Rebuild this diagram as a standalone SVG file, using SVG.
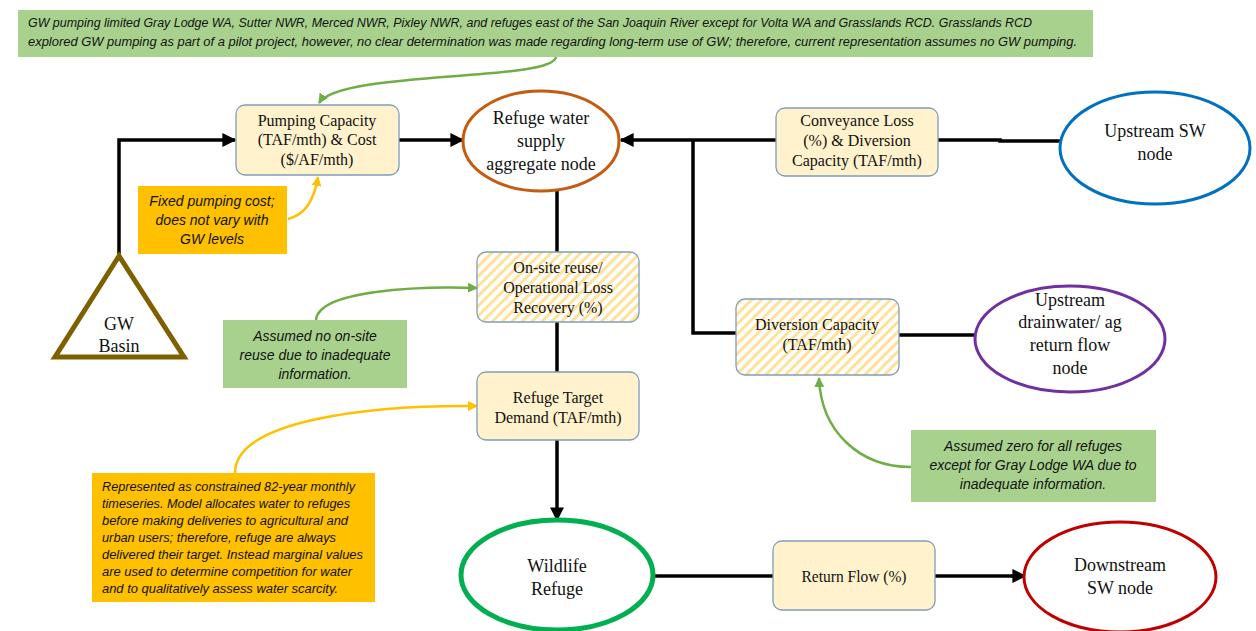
<svg xmlns="http://www.w3.org/2000/svg" width="1256" height="631" viewBox="0 0 1256 631">
<defs>
<style>
.box{fill:#FFF2CC;stroke:#7F9DB9;stroke-width:1.3}
.hatch{fill:url(#hatch);stroke:#7F9DB9;stroke-width:1.3}
.t{font-family:"Liberation Serif","Times New Roman",serif;font-size:16px;fill:#111;text-anchor:middle}
.te{font-family:"Liberation Serif","Times New Roman",serif;font-size:18px;fill:#111;text-anchor:middle}
.n{font-family:"Liberation Sans",Arial,sans-serif;font-style:italic;font-size:14px;fill:#111;text-anchor:middle}
.ns{font-family:"Liberation Sans",Arial,sans-serif;font-style:italic;font-size:12px;fill:#111}
.green{fill:#A9D18E}
.orange{fill:#FFC000}
.conn{fill:none;stroke:#000;stroke-width:3.5}
.cg{fill:none;stroke:#70AD47;stroke-width:2.5}
.cy{fill:none;stroke:#FFC000;stroke-width:2.5}
</style>
<pattern id="hatch" patternUnits="userSpaceOnUse" width="7" height="7" patternTransform="rotate(45)">
<rect width="7" height="7" fill="#ffffff"/>
<rect width="3" height="7" fill="#FFE29A"/>
</pattern>
<marker id="ab" markerUnits="userSpaceOnUse" markerWidth="14" markerHeight="14" viewBox="0 0 10 10" refX="9" refY="5" orient="auto">
<path d="M0,0 L10,5 L0,10 z" fill="#000"/>
</marker>
<marker id="ag" markerUnits="userSpaceOnUse" markerWidth="10" markerHeight="10" viewBox="0 0 10 10" refX="9" refY="5" orient="auto">
<path d="M0,0 L10,5 L0,10 z" fill="#70AD47"/>
</marker>
<marker id="ay" markerUnits="userSpaceOnUse" markerWidth="10" markerHeight="10" viewBox="0 0 10 10" refX="9" refY="5" orient="auto">
<path d="M0,0 L10,5 L0,10 z" fill="#FFC000"/>
</marker>
</defs>
<rect width="1256" height="631" fill="#fff"/>

<g id="connectors">
<path class="conn" d="M119,254 V140 H235" marker-end="url(#ab)"/>
<path class="conn" d="M399,140 H463" marker-end="url(#ab)"/>
<path class="conn" d="M557,191 V252"/>
<path class="conn" d="M557,322 V372"/>
<path class="conn" d="M557,440 V520" marker-end="url(#ab)"/>
<path class="conn" d="M654,576 H773"/>
<path class="conn" d="M935,576 H1025" marker-end="url(#ab)"/>
<path class="conn" d="M1060,141 H1000 V140 H938"/>
<path class="conn" d="M776,140 H621" marker-end="url(#ab)"/>
<path class="conn" d="M693,140 V333 H736"/>
<path class="conn" d="M899,335 H975"/>
<path class="cg" d="M556,57 C552,82 340,70 319,103" marker-end="url(#ag)"/>
<path class="cy" d="M288,219 C306,214 314,200 318,177" marker-end="url(#ay)"/>
<path class="cg" d="M316,320 C318,290 420,286 477,288" marker-end="url(#ag)"/>
<path class="cy" d="M235,473 C235,420 370,405 477,406" marker-end="url(#ay)"/>
<path class="cg" d="M911,467 C860,467 821,432 819,378" marker-end="url(#ag)"/>
</g>

<g id="note-top">
<rect class="green" x="18" y="10" width="1075" height="47"/>
<text class="ns" x="28" y="27" textLength="1004" lengthAdjust="spacingAndGlyphs">GW pumping limited Gray Lodge WA, Sutter NWR, Merced NWR, Pixley NWR, and refuges east of the San Joaquin River except for Volta WA and Grasslands RCD. Grasslands RCD</text>
<text class="ns" x="28" y="46" textLength="1049" lengthAdjust="spacingAndGlyphs">explored GW pumping as part of a pilot project, however, no clear determination was made regarding long-term use of GW; therefore, current representation assumes no GW pumping.</text>
</g>

<g id="pumping">
<rect class="box" x="236" y="105" width="163" height="70" rx="9"/>
<text class="t" x="317" y="126">Pumping Capacity</text>
<text class="t" x="317" y="145">(TAF/mth) &amp; Cost</text>
<text class="t" x="317" y="165">($/AF/mth)</text>
</g>

<g id="refuge-supply">
<ellipse cx="541" cy="141" rx="78" ry="50" fill="#fff" stroke="#C55A11" stroke-width="3"/>
<text class="te" x="541" y="124">Refuge water</text>
<text class="te" x="541" y="147">supply</text>
<text class="te" x="541" y="170">aggregate node</text>
</g>

<g id="note-fixed">
<rect class="orange" x="138" y="186" width="149" height="68"/>
<text class="n" x="212" y="206">Fixed pumping cost;</text>
<text class="n" x="212" y="225">does not vary with</text>
<text class="n" x="212" y="244">GW levels</text>
</g>

<g id="gw-basin">
<polygon points="119,256 55,357 184,357" fill="#fff" stroke="#7F6000" stroke-width="5" stroke-linejoin="miter"/>
<text class="te" x="119" y="330">GW</text>
<text class="te" x="119" y="352">Basin</text>
</g>

<g id="onsite">
<rect class="hatch" x="477" y="252" width="162" height="70" rx="9"/>
<text class="t" x="558" y="273">On-site reuse/</text>
<text class="t" x="558" y="293">Operational Loss</text>
<text class="t" x="558" y="313">Recovery (%)</text>
</g>

<g id="note-onsite">
<rect class="green" x="223" y="320" width="184" height="68"/>
<text class="n" x="315" y="341">Assumed no on-site</text>
<text class="n" x="315" y="360">reuse due to inadequate</text>
<text class="n" x="315" y="379">information.</text>
</g>

<g id="target">
<rect class="box" x="477" y="372" width="162" height="68" rx="9"/>
<text class="t" x="558" y="403">Refuge Target</text>
<text class="t" x="558" y="423">Demand (TAF/mth)</text>
</g>

<g id="note-target">
<rect class="orange" x="92" y="473" width="283" height="129"/>
<text class="ns" x="102" y="491" textLength="253" lengthAdjust="spacingAndGlyphs">Represented as constrained 82-year monthly</text>
<text class="ns" x="102" y="508" textLength="248" lengthAdjust="spacingAndGlyphs">timeseries. Model allocates water to refuges</text>
<text class="ns" x="102" y="525" textLength="246" lengthAdjust="spacingAndGlyphs">before making deliveries to agricultural and</text>
<text class="ns" x="102" y="542" textLength="234" lengthAdjust="spacingAndGlyphs">urban users; therefore, refuge are always</text>
<text class="ns" x="102" y="559" textLength="261" lengthAdjust="spacingAndGlyphs">delivered their target. Instead marginal values</text>
<text class="ns" x="102" y="576" textLength="250" lengthAdjust="spacingAndGlyphs">are used to determine competition for water</text>
<text class="ns" x="102" y="593" textLength="236" lengthAdjust="spacingAndGlyphs">and to qualitatively assess water scarcity.</text>
</g>

<g id="wildlife">
<ellipse cx="557" cy="575" rx="96" ry="55" fill="#fff" stroke="#00B050" stroke-width="5"/>
<text class="te" x="557" y="572">Wildlife</text>
<text class="te" x="557" y="595">Refuge</text>
</g>

<g id="return-flow">
<rect class="box" x="773" y="541" width="162" height="69" rx="9"/>
<text class="t" x="854" y="582" textLength="105" lengthAdjust="spacingAndGlyphs">Return Flow (%)</text>
</g>

<g id="downstream">
<ellipse cx="1120" cy="577" rx="96" ry="55" fill="#fff" stroke="#C00000" stroke-width="3"/>
<text class="te" x="1120" y="571">Downstream</text>
<text class="te" x="1120" y="594">SW node</text>
</g>

<g id="conveyance">
<rect class="box" x="776" y="108" width="162" height="68" rx="9"/>
<text class="t" x="857" y="126">Conveyance Loss</text>
<text class="t" x="857" y="146">(%) &amp; Diversion</text>
<text class="t" x="857" y="166">Capacity (TAF/mth)</text>
</g>

<g id="upstream-sw">
<ellipse cx="1155" cy="148" rx="95" ry="56" fill="#fff" stroke="#0070C0" stroke-width="3"/>
<text class="te" x="1155" y="137">Upstream SW</text>
<text class="te" x="1155" y="160">node</text>
</g>

<g id="diversion">
<rect class="hatch" x="736" y="299" width="163" height="76" rx="9"/>
<text class="t" x="817" y="330">Diversion Capacity</text>
<text class="t" x="817" y="350">(TAF/mth)</text>
</g>

<g id="upstream-drain">
<ellipse cx="1070" cy="339" rx="95" ry="53" fill="#fff" stroke="#7030A0" stroke-width="3"/>
<text class="te" x="1070" y="306">Upstream</text>
<text class="te" x="1070" y="328">drainwater/ ag</text>
<text class="te" x="1070" y="351">return flow</text>
<text class="te" x="1070" y="374">node</text>
</g>

<g id="note-diversion">
<rect class="green" x="911" y="430" width="245" height="72"/>
<text class="n" x="1033" y="451">Assumed zero for all refuges</text>
<text class="n" x="1033" y="470">except for Gray Lodge WA due to</text>
<text class="n" x="1033" y="489">inadequate information.</text>
</g>
</svg>
